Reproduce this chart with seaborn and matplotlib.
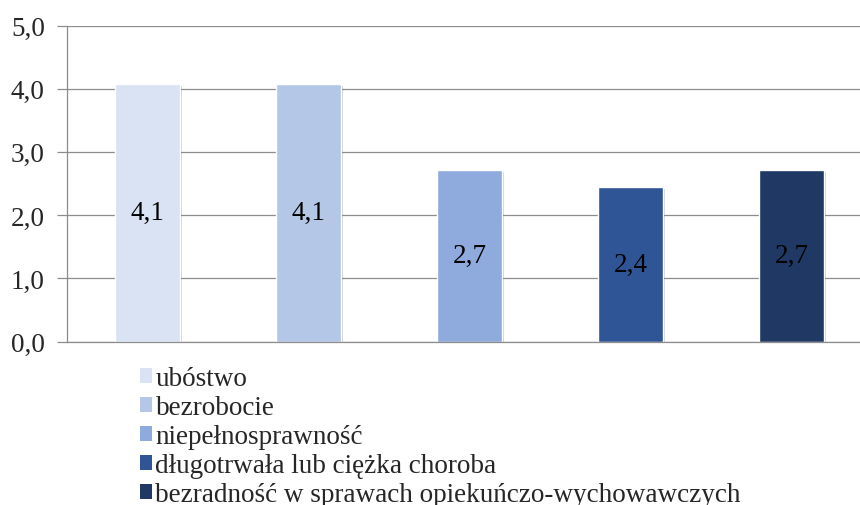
import matplotlib
matplotlib.use("Agg")
import matplotlib.pyplot as plt
import matplotlib.patheffects as pe
from matplotlib.patches import Patch
import seaborn as sns

categories = ["ubóstwo", "bezrobocie", "niepełnosprawność",
              "długotrwała lub ciężka choroba",
              "bezradność w sprawach opiekuńczo-wychowawczych"]
values = [4.08, 4.08, 2.71, 2.44, 2.71]
labels = ["4,1", "4,1", "2,7", "2,4", "2,7"]
colors = ["#DAE3F3", "#B4C7E7", "#8FAADC", "#2F5597", "#1F3864"]
yticks = [0, 1, 2, 3, 4, 5]

sns.set_style("white")
plt.rcParams['font.family'] = ['Liberation Serif', 'DejaVu Serif']
fs = 19.5
plt.rcParams['font.size'] = fs

fig = plt.figure(figsize=(8.6, 5.06), dpi=100)
ax = fig.add_axes([67 / 860, 1 - 342.5 / 506, 805 / 860, 316 / 506])

sns.barplot(x=categories, y=values, hue=categories, palette=colors,
            width=0.4, legend=False, ax=ax, saturation=1)

# bars get a faint drop shadow and a centred value label
for bar, lab in zip(ax.patches, labels):
    bar.set_path_effects([pe.SimplePatchShadow(offset=(1.5, -1.5), shadow_rgbFace='#000000', alpha=0.18),
                          pe.Normal()])
    ax.text(bar.get_x() + bar.get_width() / 2, bar.get_height() / 2, lab,
            ha='center', va='center', fontsize=fs, color='black')

ax.set_ylim(0, 5)
ax.set_yticks(yticks)
ax.set_yticklabels([f"{t:.1f}".replace('.', ',') for t in yticks], fontsize=fs)
ax.set_xticks([])
ax.yaxis.grid(True, color='#8C8C8C', linewidth=0.9)
ax.set_axisbelow(True)
for s in ['top', 'right']:
    ax.spines[s].set_visible(False)
for s in ['left', 'bottom']:
    ax.spines[s].set_color('#8C8C8C')
    ax.spines[s].set_linewidth(0.9)
ax.tick_params(axis='y', which='both', left=True, length=7, width=0.9,
               color='#8C8C8C', pad=9)

handles = [Patch(facecolor=c, edgecolor='none') for c in colors]
fig.legend(handles, categories, loc='upper left', bbox_to_anchor=(140 / 860, 1 - 367 / 506),
           frameon=False, handlelength=0.45, handleheight=0.45, handletextpad=0.12,
           labelspacing=0.15, borderaxespad=0, borderpad=0, fontsize=fs)

fig.savefig("out.png", dpi=100)
